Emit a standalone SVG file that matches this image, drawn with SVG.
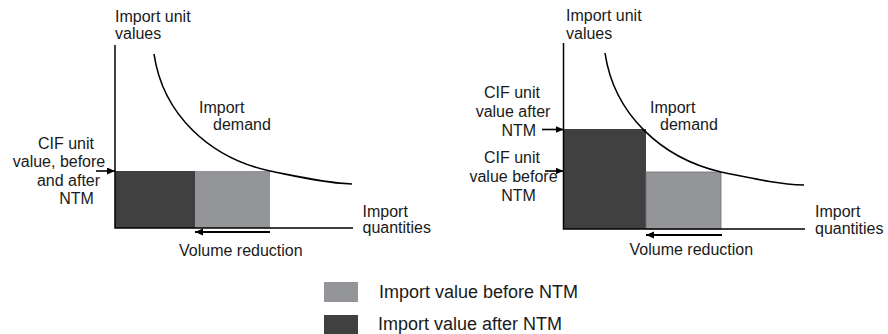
<svg xmlns="http://www.w3.org/2000/svg" width="888" height="334" viewBox="0 0 888 334">
<style>
text{font-family:"Liberation Sans",Arial,sans-serif;font-size:16px;fill:#1a1a1a}
.m{text-anchor:middle}
.lg{font-size:18px}
.axis{fill:none;stroke:#000;stroke-width:1.5}
.curve{fill:none;stroke:#000;stroke-width:1.6}
.dark{fill:#404041}
.light{fill:#949599}
.arr{stroke:#000;stroke-width:1.6;fill:none;marker-end:url(#ah)}
.arr2{stroke:#000;stroke-width:2;fill:none;marker-end:url(#ah)}
</style>
<defs>
<marker id="ah" markerUnits="userSpaceOnUse" markerWidth="9" markerHeight="8" refX="8" refY="3.5" orient="auto">
<path d="M0,0 L8,3.5 L0,7 z" fill="#000"/>
</marker>
</defs>
<rect width="888" height="334" fill="#fff"/>

<g id="left-chart">
<g id="left-bars">
<rect class="dark" x="115" y="171" width="80" height="57"/>
<rect class="light" x="195" y="171" width="75" height="57"/>
</g>
<path id="left-axes" class="axis" d="M115,45 V228 H353"/>
<path id="left-demand-curve" class="curve" d="M154,54 C163,115 210,158 270,171 C300,177 325,183 352,184"/>
<g id="left-labels">
<text x="115" y="21.5">Import unit</text>
<text x="115" y="39">values</text>
<text x="199" y="113">Import</text>
<text x="213" y="130">demand</text>
<text class="m" x="66" y="148.5">CIF unit</text>
<text class="m" x="59" y="167">value, before</text>
<text class="m" x="68.5" y="185.5">and after</text>
<text class="m" x="76.5" y="204">NTM</text>
<text x="362.5" y="216.5">Import</text>
<text x="362.5" y="233">quantities</text>
<text x="179" y="255.5">Volume reduction</text>
</g>
</g>

<g id="right-chart">
<g id="right-bars">
<rect class="dark" x="564" y="129" width="82" height="100"/>
<rect class="light" x="646" y="172" width="75" height="57" stroke="#6e6e70" stroke-width="0.8"/>
</g>
<path id="right-axes" class="axis" d="M563.5,43 V229 H805"/>
<path id="right-demand-curve" class="curve" d="M605,53 C614,114 661,158 721,172 C751,178 776,184 804,185"/>
<g id="right-labels">
<text x="566" y="21">Import unit</text>
<text x="566" y="38.5">values</text>
<text x="650" y="112.5">Import</text>
<text x="660" y="130">demand</text>
<text class="m" x="512" y="98.3">CIF unit</text>
<text class="m" x="513" y="116.7">value after</text>
<text class="m" x="518.8" y="136">NTM</text>
<text class="m" x="512" y="163.3">CIF unit</text>
<text class="m" x="513.5" y="181.7">value before</text>
<text class="m" x="518.5" y="200.7">NTM</text>
<text x="815" y="217">Import</text>
<text x="815" y="234">quantities</text>
<text x="629.5" y="255">Volume reduction</text>
</g>
</g>

<g id="connectors">
<line class="arr" x1="96" y1="171" x2="115" y2="171"/>
<line class="arr2" x1="270" y1="232" x2="195" y2="232"/>
<line class="arr" x1="542" y1="129.5" x2="563.5" y2="129.5"/>
<line class="arr" x1="545" y1="171" x2="563.5" y2="171"/>
<line class="arr2" x1="722" y1="235" x2="646" y2="235"/>
</g>

<g id="legend">
<g id="legend-before">
<rect class="light" x="324" y="282" width="34" height="20"/>
<text class="lg" x="379" y="298">Import value before NTM</text>
</g>
<g id="legend-after">
<rect class="dark" x="324" y="315" width="34" height="19"/>
<text class="lg" x="378" y="330">Import value after NTM</text>
</g>
</g>
</svg>
